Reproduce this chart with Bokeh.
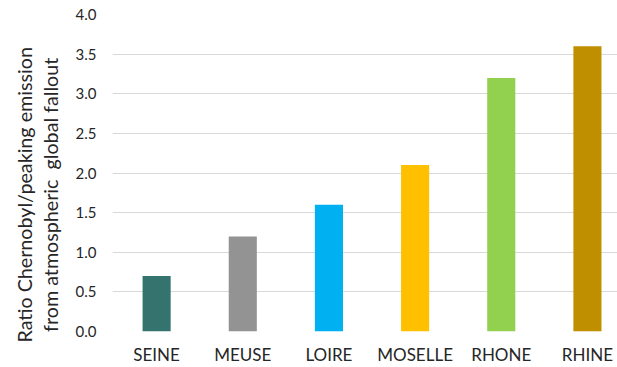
from bokeh.embed import file_html
from bokeh.models import ColumnDataSource, FixedTicker, Range1d, Title
from bokeh.plotting import figure
from bokeh.resources import INLINE

# Rivers and their Chernobyl / atmospheric-fallout emission ratio
rivers = ["SEINE", "MEUSE", "LOIRE", "MOSELLE", "RHONE", "RHINE"]
ratios = [0.7, 1.2, 1.6, 2.1, 3.2, 3.6]
colors = ["#35736F", "#939393", "#00B0F0", "#FFC000", "#92D050", "#BF8F00"]
y_ticks = [0.0, 0.5, 1.0, 1.5, 2.0, 2.5, 3.0, 3.5, 4.0]
title_lines = ["Ratio Chernobyl/peaking emission", "from atmospheric\u00a0 global fallout"]

FONT = "Lato"
TEXT = "#262626"

positions = list(range(len(rivers)))
source = ColumnDataSource(dict(x=positions, top=ratios, color=colors, river=rivers))

p = figure(
    width=617,
    height=367,
    output_backend="svg",
    toolbar_location=None,
    x_range=Range1d(-0.512, 5.349),
    y_range=Range1d(0, 4.0),
    min_border_left=0,
    min_border_right=0,
    min_border_top=14,
    min_border_bottom=0,
)
p.outline_line_color = None
p.background_fill_color = "white"
p.border_fill_color = "white"

p.vbar(x="x", top="top", bottom=0, width=0.326, fill_color="color",
       line_color=None, source=source)

# x axis: one label per river
p.xaxis.ticker = FixedTicker(ticks=positions)
p.xaxis.major_label_overrides = {i: r for i, r in enumerate(rivers)}
p.xaxis.axis_line_color = None
p.xaxis.major_tick_line_color = None
p.xaxis.minor_tick_line_color = None
p.xaxis.major_tick_out = 0
p.xaxis.major_tick_in = 0
p.xaxis.major_label_text_font = FONT
p.xaxis.major_label_text_font_size = "17px"
p.xaxis.major_label_text_color = TEXT
p.xaxis.major_label_text_line_height = 1.0
p.xaxis.major_label_standoff = 12

# y axis: 0.0 .. 4.0 every 0.5
p.yaxis.ticker = FixedTicker(ticks=y_ticks)
p.yaxis.major_label_overrides = {t: f"{t:.1f}" for t in y_ticks}
p.yaxis.axis_line_color = None
p.yaxis.major_tick_line_color = None
p.yaxis.minor_tick_line_color = None
p.yaxis.major_tick_out = 0
p.yaxis.major_tick_in = 0
p.yaxis.major_label_text_font = FONT
p.yaxis.major_label_text_font_size = "15px"
p.yaxis.major_label_text_color = TEXT
p.yaxis.major_label_standoff = 16

p.xgrid.grid_line_color = None
p.ygrid.ticker = FixedTicker(ticks=y_ticks)
p.ygrid.grid_line_color = "#D9D9D9"
p.ygrid.grid_line_width = 1.2

# two-line vertical axis title, starting just below the baseline
p.add_layout(Title(
    text="\n".join(title_lines), align="left", offset=-11, standoff=21,
    text_font=FONT, text_font_size="19.7px", text_font_style="normal",
    text_color=TEXT, text_line_height=1.15, text_align="center",
), "left")

open("out.html", "w").write(file_html(p, INLINE))
